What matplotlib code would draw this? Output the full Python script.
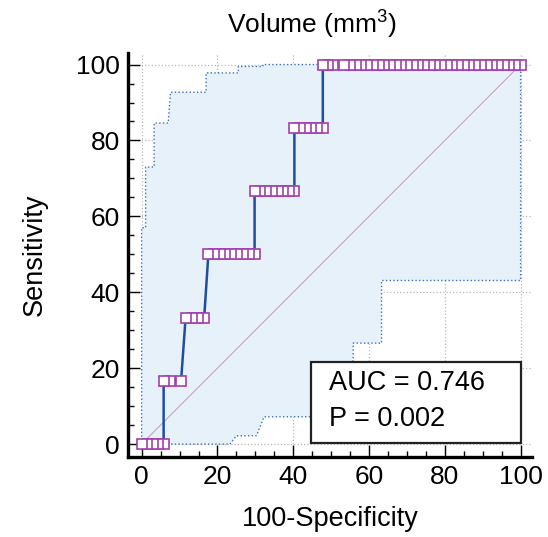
#!/usr/bin/env python3
# -*- coding: utf-8 -*-
import numpy as np
import matplotlib
matplotlib.use("Agg")
import matplotlib.pyplot as plt
from matplotlib.patches import Rectangle

plt.rcParams['font.family'] = ['Liberation Sans', 'DejaVu Sans']
plt.rcParams['mathtext.fontset'] = 'custom'
plt.rcParams['mathtext.rm'] = 'Liberation Sans'
plt.rcParams['mathtext.it'] = 'Liberation Sans'

# ROC points (100-specificity, sensitivity)
rocX = [0.0, 1.45, 2.9, 4.35, 5.8,
        5.8, 7.5, 10.4,
        11.6, 13.2, 14.9, 16.5,
        17.6, 19.1, 20.6, 22.1, 23.7, 25.2, 26.7, 28.2, 29.8,
        29.8, 31.3, 32.8, 34.4, 35.9, 37.4, 38.9, 40.3,
        40.3, 41.8, 43.3, 44.8, 46.3, 47.8,
        47.8, 49.3, 50.6, 53.5, 55.0, 56.5, 58.0, 59.5, 61.0, 62.5, 64.0,
        65.5, 67.0, 68.5, 70.0, 71.5, 73.0, 74.5, 76.0, 77.5, 79.0, 80.5,
        82.0, 83.5, 85.0, 86.5, 88.0, 89.5, 91.0, 92.5, 94.0, 95.5, 97.0,
        98.5, 100.0]
rocY = [0.0] * 5 + [16.67] * 3 + [33.33] * 4 + [50.0] * 9 + [66.67] * 8 \
    + [83.33] * 6 + [100.0] * 35

# Confidence bounds
upperX = [0, 0, 1.05, 1.05, 3.3, 3.3, 7.0, 7.6, 17.0, 17.0, 25.5, 25.5, 32.0, 32.0, 100]
upperY = [0, 57, 57, 73, 73, 84.6, 84.6, 92.7, 92.7, 97.8, 97.8, 99.5, 99.5, 100, 100]
lowerX = [0, 23.3, 25.0, 30.3, 32.3, 50.0, 50.0, 55.8, 55.8, 63.3, 63.3, 100, 100]
lowerY = [0, 0, 2.2, 2.2, 7.2, 7.2, 15.0, 15.0, 26.6, 26.6, 43.1, 43.1, 100]

auc = 0.746
pValue = 0.002

fig = plt.figure(figsize=(5.48, 5.37), dpi=100)
ax = fig.add_axes([0.2336, 0.149, 0.7372, 0.752])

# Confidence band
polyX = np.concatenate([upperX, lowerX[::-1]])
polyY = np.concatenate([upperY, lowerY[::-1]])
ax.fill(polyX, polyY, color='#e6f1fa', lw=0, zorder=1)
ax.plot(upperX, upperY, ls=':', color='#3f6fbf', lw=1.0, zorder=2)
ax.plot(lowerX, lowerY, ls=':', color='#3f6fbf', lw=1.0, zorder=2)

# Reference diagonal
ax.plot([0, 100], [0, 100], color='#c9a3c6', lw=0.8, zorder=2)

# ROC curve and criterion markers (leftmost marker drawn on top)
ax.plot(rocX, rocY, color='#1f4e9e', lw=1.8, zorder=3)
ax.plot(rocX[::-1], rocY[::-1], ls='none', marker='s', ms=7.4,
        mfc='white', mec='#a23fae', mew=1.2, zorder=4)

ax.set_xlim(-3.6, 103)
ax.set_ylim(-3.4, 103)
ax.set_xticks(np.arange(0, 101, 20))
ax.set_yticks(np.arange(0, 101, 20))
ax.set_xticks(np.arange(0, 101, 5), minor=True)
ax.set_yticks(np.arange(0, 101, 5), minor=True)
ax.tick_params(which='major', direction='in', length=8.5, width=1.0,
               labelsize=19, pad=6)
ax.tick_params(which='minor', direction='in', length=4.5, width=1.0)
ax.grid(True, which='major', ls=':', color='#b8b8b8', lw=0.9, zorder=0)
ax.set_axisbelow(True)

for side in ['top', 'right']:
    ax.spines[side].set_visible(False)
for side in ['left', 'bottom']:
    ax.spines[side].set_linewidth(2.4)

ax.set_xlabel("100-Specificity", fontsize=19.5, labelpad=12)
ax.set_ylabel("Sensitivity", fontsize=19.5, labelpad=20)
fig.text(0.57, 0.937, r"Volume (mm$^{3}$)", fontsize=19, ha='center', va='baseline')

# AUC box
ax.add_patch(Rectangle((44.8, 0.3), 55.2, 21.4, facecolor='white',
                       edgecolor='#222222', lw=1.6, zorder=5))
ax.text(49.5, 16.0, "AUC = %.3f" % auc, fontsize=19.5, va='center', zorder=6)
ax.text(49.5, 6.6, "P = %.3f" % pValue, fontsize=19.5, va='center', zorder=6)

fig.savefig("out.png", dpi=100)
